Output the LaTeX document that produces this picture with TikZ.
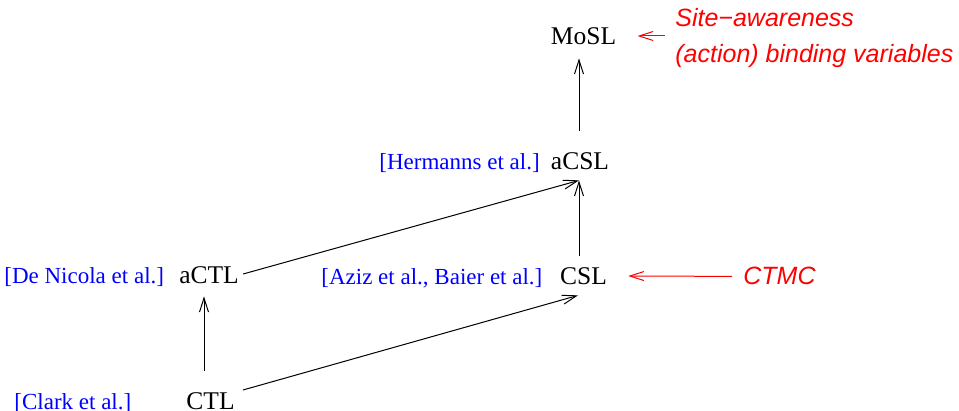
\documentclass[tikz,border=0pt]{standalone}
\usepackage{fontspec}
\setmainfont{Liberation Serif}
\setsansfont{Liberation Sans}
\usetikzlibrary{arrows.meta,calc}
\begin{document}
\begin{tikzpicture}[x=0.5pt,y=-0.5pt,
  logic/.style={font=\fontsize{12.75pt}{15pt}\selectfont, inner sep=0pt, text height=8.5pt, text depth=0pt, anchor=base},
  cite/.style={font=\fontsize{11.5pt}{14pt}\selectfont, text=blue, inner sep=0pt, anchor=base west},
  note/.style={font=\sffamily\itshape\fontsize{12.5pt}{15pt}\selectfont, text=red, inner sep=0pt, anchor=base west},
  arr/.style={draw=black, line width=0.5pt, -{Straight Barb[length=7pt,width=4.5pt]}},
  redarr/.style={arr, draw=red}]
\useasboundingbox (0,0) rectangle (959,411);
% logics
\node[logic] (MoSL) at (583.5,45) {MoSL};
\node[logic] (aCSL) at (580,170) {aCSL};
\node[logic] (aCTL) at (209,284) {aCTL};
\node[logic] (CSL) at (583.5,285) {CSL};
\node[logic] (CTL) at (210.5,409) {CTL};
% citations
\node[cite] (herm) at (379,170) {[Hermanns et al.]};
\node[cite] (denic) at (4,284) {[De Nicola et al.]};
\node[cite] (aziz) at (321,285) {[Aziz et al., Baier et al.]};
\node[cite] (clark) at (14,409) {[Clark et al.]};
% notes
\node[note] (site) at (675,27) {Site−awareness};
\node[note] (bind) at (675,63) {(action) binding variables};
\node[note] (ctmc) at (743,285) {CTMC};
% connectors
\draw[arr] ($(aCSL.north)+(-1,-22)$) -- ($(MoSL.south)+(-4.5,13)$);
\draw[arr] ($(CSL.north)+(-4.5,-12)$) -- ($(aCSL.south)+(-1,10)$);
\draw[arr] ($(aCTL.east)+(4,-1.5)$) -- ($(aCSL.south)+(-1,10)$);
\draw[arr] ($(CTL.north)+(-6.5,-21)$) -- ($(aCTL.south)+(-5,12)$);
\draw[arr] ($(CTL.east)+(8,-10.5)$) -- ($(CSL.south)+(-5.5,10)$);
\draw[redarr] ($(ctmc.west)+(-11,0)$) -- ($(CSL.east)+(21,-0.5)$);
\draw[redarr] ($(site.base west)+(-10,9)$) -- ($(MoSL.east)+(21,-0.5)$);
\end{tikzpicture}
\end{document}
